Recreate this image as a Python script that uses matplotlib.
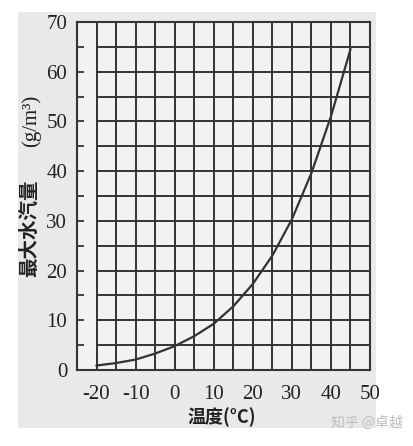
import matplotlib
matplotlib.use("Agg")
import matplotlib.pyplot as plt
from matplotlib.patches import Rectangle

# === Data ===
temps = [-20, -15, -10, -5, 0, 5, 10, 15, 20, 25, 30, 35, 40, 45]
vapor = [0.9, 1.4, 2.1, 3.3, 4.8, 6.8, 9.3, 12.8, 17.3, 23.0, 30.3, 39.6, 51.0, 64.5]
xticks = [-20, -10, 0, 10, 20, 30, 40, 50]
yticks = [0, 10, 20, 30, 40, 50, 60, 70]
x_grid = [-20, -15, -10, -5, 0, 5, 10, 15, 20, 25, 30, 35, 40, 45]
y_grid = [5, 10, 15, 20, 25, 30, 35, 40, 45, 50, 55, 60, 65]

plt.rcParams['font.family'] = ['Liberation Serif', 'DejaVu Serif']
plt.rcParams['axes.unicode_minus'] = False
cjk = ['Noto Sans CJK SC', 'DejaVu Sans']
ink = '#333333'

fig = plt.figure(figsize=(4.13, 4.46), dpi=100)
fig.patch.set_facecolor('white')
# scanned page area
fig.patches.append(Rectangle((18 / 413, 1 - 428 / 446), 358 / 413, 416 / 446,
                             transform=fig.transFigure, facecolor='#e9e9e9',
                             edgecolor='none', zorder=-10))

ax = fig.add_axes([77 / 413, 1 - 370 / 446, 293 / 413, 348 / 446])
ax.set_facecolor('#f2f2f2')
ax.set_xlim(-25, 50)
ax.set_ylim(0, 70)

# === Grid ===
for x in x_grid:
    ax.plot([x, x], [0, 70], color=ink, lw=1.4, zorder=1)
for y in y_grid:
    ax.plot([-20, 50], [y, y], color=ink, lw=1.4, zorder=1)

# === Curve ===
ax.plot(temps, vapor, color=ink, lw=1.6, zorder=2)

for s in ax.spines.values():
    s.set_color(ink)
    s.set_linewidth(1.5)

ax.set_xticks(xticks)
ax.set_yticks(yticks)
ax.set_yticks(range(5, 70, 10), minor=True)
ax.tick_params(axis='x', length=0, pad=11, labelsize=15, labelcolor='#222222')
ax.tick_params(axis='y', which='both', direction='in', length=5, width=1.3,
               color=ink, pad=7, labelsize=15, labelcolor='#222222')
ax.tick_params(axis='y', which='minor', labelleft=False)

# === Axis titles ===
fig.text(222 / 413, 1 - 417 / 446, '温度(°C)', family=cjk, fontsize=13,
         fontweight='bold', ha='center', va='center', color='#222222')
fig.text(30 / 413, 1 - 228 / 446, '最大水汽量', family=cjk, fontsize=14,
         fontweight='bold', rotation=90, ha='center', va='center', color='#222222')
fig.text(31 / 413, 1 - 121 / 446, '(g/m³)', fontsize=15, rotation=90,
         ha='center', va='center', color='#222222')

# watermark
fig.text(367 / 413, 1 - 423 / 446, '知乎 @卓越', family=cjk, fontsize=10,
         ha='center', va='center', color='#bdbdbd')

fig.savefig('out.png', dpi=100)
